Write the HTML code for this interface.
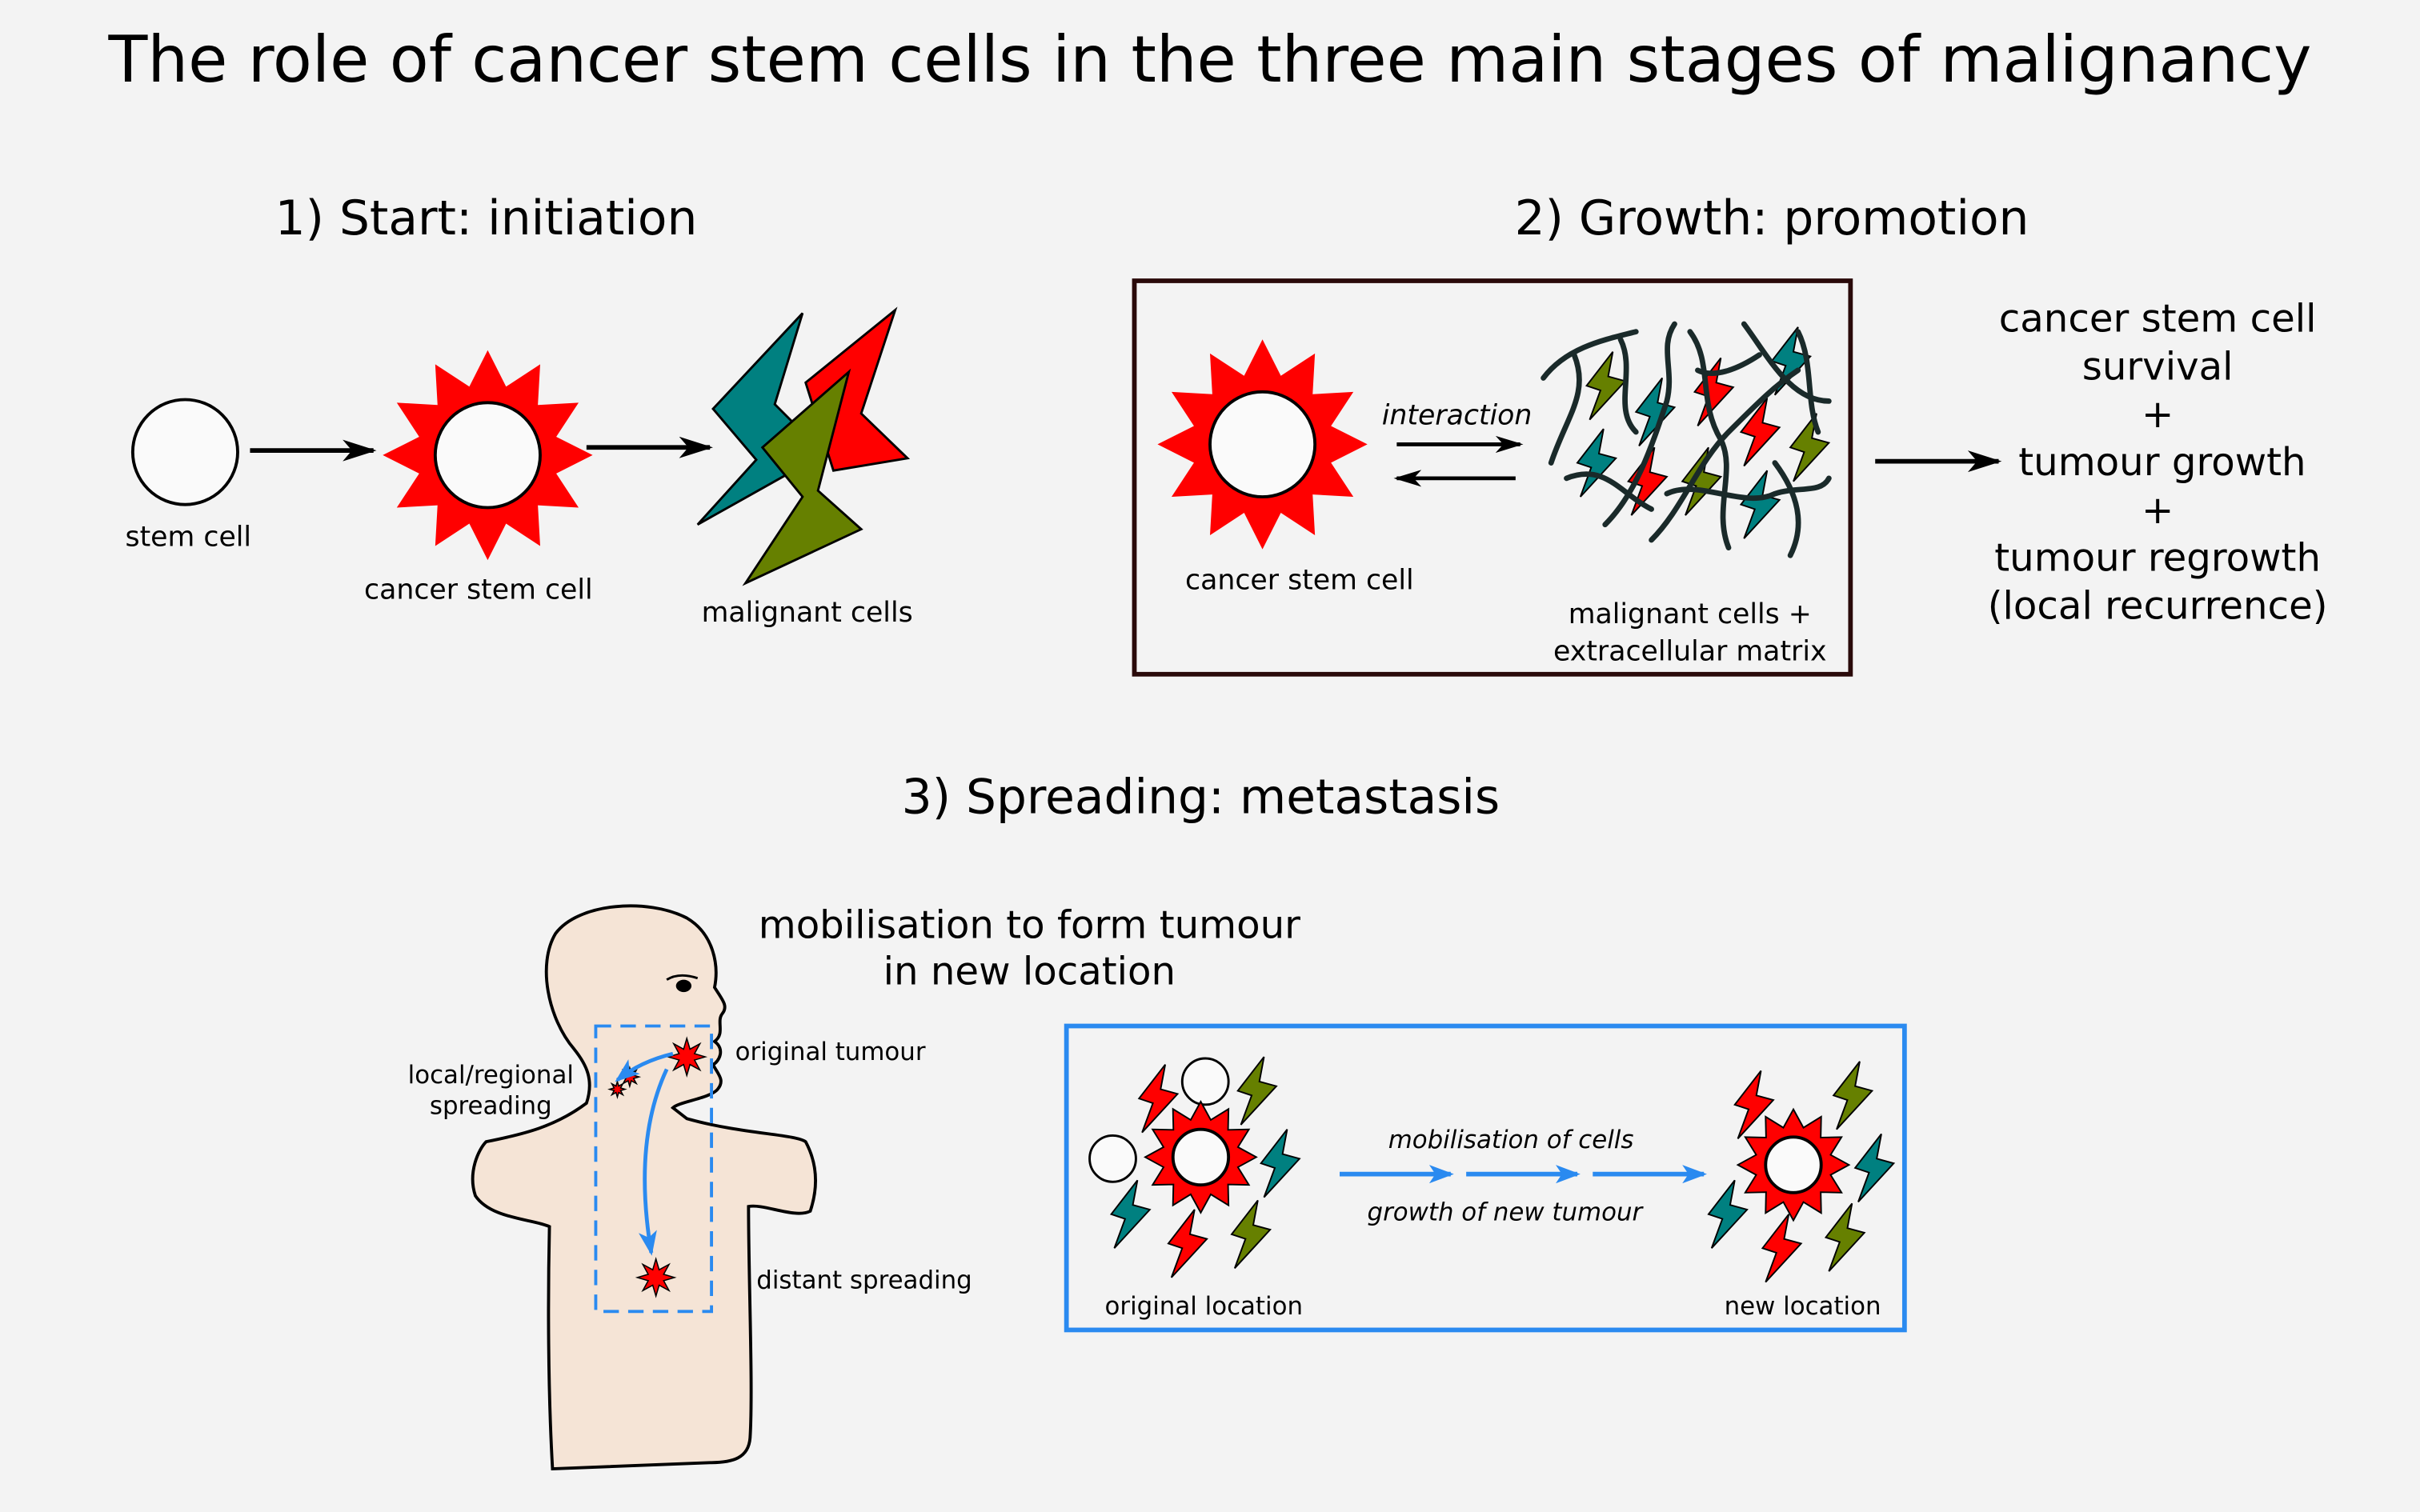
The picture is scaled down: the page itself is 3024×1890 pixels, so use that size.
<!DOCTYPE html>
<html><head><meta charset="utf-8">
<style>
html,body{margin:0;padding:0;background:#f3f3f3;}
svg{display:block;}
text{font-family:"DejaVu Sans","Liberation Sans",sans-serif;fill:#000;}
</style></head>
<body>
<svg id="s" width="3024" height="1890" viewBox="0 0 1568 980" xmlns="http://www.w3.org/2000/svg">
<defs>
<marker id="ah" markerWidth="22" markerHeight="14" refX="20" refY="7" orient="auto" markerUnits="userSpaceOnUse" viewBox="0 0 22 14"><path d="M0,0 L22,7 L0,14 L6,7 z" fill="#000"/></marker>
<marker id="ahs" markerWidth="18" markerHeight="11" refX="16" refY="5.5" orient="auto" markerUnits="userSpaceOnUse" viewBox="0 0 18 11"><path d="M0,0 L18,5.5 L0,11 L5,5.5 z" fill="#000"/></marker>
<marker id="ahb" markerWidth="16" markerHeight="12" refX="14" refY="6" orient="auto" markerUnits="userSpaceOnUse" viewBox="0 0 16 12"><path d="M0,0 L16,6 L0,12 L4,6 z" fill="#2a8af0"/></marker>
<polygon id="bolt" points="22,0 0,28 12,32 3,57 32,24 18,21" stroke="#000" stroke-width="1"/>
<polygon id="sbolt" points="17,0 0,22 9,25 2,44 25,19 14,16" stroke="#000" stroke-width="1"/>
</defs>
<rect width="1568" height="980" fill="#f3f3f3"/>
<text x="784" y="53" font-size="41.5" text-anchor="middle">The role of cancer stem cells in the three main stages of malignancy</text>

<!-- Section 1 -->
<text x="315" y="152" font-size="31" text-anchor="middle">1) Start: initiation</text>
<circle cx="120" cy="293" r="34" fill="#fafafa" stroke="#000" stroke-width="2"/>
<text x="122" y="354" font-size="18" text-anchor="middle">stem cell</text>
<line x1="162" y1="292" x2="242" y2="292" stroke="#000" stroke-width="3" marker-end="url(#ah)"/>
<g id="star1"></g>
<text x="310" y="388" font-size="18" text-anchor="middle">cancer stem cell</text>
<line x1="380" y1="290" x2="460" y2="290" stroke="#000" stroke-width="3" marker-end="url(#ah)"/>
<polygon points="520,203 462,265 490,298 452,340 534,294 502,262" fill="#008080" stroke="#000" stroke-width="1.5"/>
<polygon points="580,201 522,248 540,305 588,297 558,268" fill="#ff0000" stroke="#000" stroke-width="1.5"/>
<polygon points="550,241 494,290 520,322 483,378 558,343 530,318" fill="#668000" stroke="#000" stroke-width="1.5"/>
<text x="523" y="403" font-size="18" text-anchor="middle">malignant cells</text>

<!-- Section 2 -->
<text x="1148" y="152" font-size="31" text-anchor="middle">2) Growth: promotion</text>
<rect x="735" y="182" width="464" height="255" fill="none" stroke="#2a0a0a" stroke-width="3"/>
<g id="star2"></g>
<text x="842" y="382" font-size="18" text-anchor="middle">cancer stem cell</text>
<text x="944" y="275" font-size="18" font-style="italic" text-anchor="middle">interaction</text>
<line x1="905" y1="288" x2="985" y2="288" stroke="#000" stroke-width="2.5" marker-end="url(#ahs)"/>
<line x1="982" y1="310" x2="905" y2="310" stroke="#000" stroke-width="2.5" marker-end="url(#ahs)"/>
<g id="matrix"></g>
<text x="1095" y="404" font-size="18" text-anchor="middle">malignant cells +</text>
<text x="1095" y="428" font-size="18" text-anchor="middle">extracellular matrix</text>
<line x1="1215" y1="299" x2="1295" y2="299" stroke="#000" stroke-width="3" marker-end="url(#ah)"/>
<g font-size="25" text-anchor="middle">
<text x="1398" y="215">cancer stem cell</text>
<text x="1398" y="246">survival</text>
<text x="1398" y="277">+</text>
<text x="1401" y="308">tumour growth</text>
<text x="1398" y="339">+</text>
<text x="1398" y="370">tumour regrowth</text>
<text x="1398" y="401">(local recurrence)</text>
</g>

<!-- Section 3 -->
<text x="778" y="527" font-size="31" text-anchor="middle">3) Spreading: metastasis</text>
<path d="M372,680 C355,660 348,625 360,605 C375,585 420,582 445,595 C462,605 466,625 463,640 C468,648 472,652 468,657 C464,662 470,670 463,675 C470,680 466,688 462,690 C465,696 470,700 465,706 C460,712 440,714 436,718 L445,725 C480,735 515,735 522,740 C530,755 530,770 525,785 C515,790 495,780 485,782 C485,830 488,900 486,932 C485,945 475,948 460,948 L358,952 C355,900 355,840 356,795 C345,790 318,790 308,775 C303,760 310,745 315,740 C340,735 360,730 380,715 C385,700 380,690 372,680 Z" fill="#f5e4d6" stroke="#000" stroke-width="2"/>
<ellipse cx="443" cy="639" rx="5" ry="4" fill="#000"/>
<path d="M432,635 Q440,630 452,634" fill="none" stroke="#000" stroke-width="1.5"/>
<rect x="386" y="665" width="75" height="185" fill="none" stroke="#2a8af0" stroke-width="2" stroke-dasharray="10,6"/>
<g id="tumours"></g>
<path d="M436,683 Q415,688 400,700" fill="none" stroke="#2a8af0" stroke-width="2.5" marker-end="url(#ahb)"/>
<path d="M432,693 Q410,740 422,812" fill="none" stroke="#2a8af0" stroke-width="2.5" marker-end="url(#ahb)"/>
<text x="318" y="702" font-size="16" text-anchor="middle">local/regional</text>
<text x="318" y="722" font-size="16" text-anchor="middle">spreading</text>
<text x="538" y="687" font-size="16" text-anchor="middle">original tumour</text>
<text x="560" y="835" font-size="16" text-anchor="middle">distant spreading</text>
<text x="667" y="608" font-size="25" text-anchor="middle">mobilisation to form tumour</text>
<text x="667" y="638" font-size="25" text-anchor="middle">in new location</text>

<rect x="691" y="665" width="543" height="197" fill="none" stroke="#2a8af0" stroke-width="3"/>
<circle cx="781" cy="701" r="15" fill="#fafafa" stroke="#000" stroke-width="1.5"/>
<circle cx="721" cy="751" r="15" fill="#fafafa" stroke="#000" stroke-width="1.5"/>
<use href="#sbolt" x="738" y="690" fill="#ff0000"/>
<use href="#sbolt" x="802" y="685" fill="#668000"/>
<use href="#sbolt" x="817" y="732" fill="#008080"/>
<use href="#sbolt" x="720" y="765" fill="#008080"/>
<use href="#sbolt" x="757" y="784" fill="#ff0000"/>
<use href="#sbolt" x="798" y="778" fill="#668000"/>
<use href="#sbolt" x="1124" y="694" fill="#ff0000"/>
<use href="#sbolt" x="1188" y="688" fill="#668000"/>
<use href="#sbolt" x="1202" y="735" fill="#008080"/>
<use href="#sbolt" x="1107" y="765" fill="#008080"/>
<use href="#sbolt" x="1142" y="787" fill="#ff0000"/>
<use href="#sbolt" x="1183" y="780" fill="#668000"/>
<g id="star3"></g><g id="star4"></g>
<text x="979" y="744" font-size="16" font-style="italic" text-anchor="middle">mobilisation of cells</text>
<text x="975" y="791" font-size="16" font-style="italic" text-anchor="middle">growth of new tumour</text>
<line x1="868" y1="761" x2="940" y2="761" stroke="#2a8af0" stroke-width="3" marker-end="url(#ahb)"/>
<line x1="950" y1="761" x2="1022" y2="761" stroke="#2a8af0" stroke-width="3" marker-end="url(#ahb)"/>
<line x1="1032" y1="761" x2="1104" y2="761" stroke="#2a8af0" stroke-width="3" marker-end="url(#ahb)"/>
<text x="780" y="852" font-size="16" text-anchor="middle">original location</text>
<text x="1168" y="852" font-size="16" text-anchor="middle">new location</text>
</svg>
<script>
var NS="http://www.w3.org/2000/svg";
function el(p,t,a){var e=document.createElementNS(NS,t);for(var k in a)e.setAttribute(k,a[k]);p.appendChild(e);return e;}
function star(id,cx,cy,ro,ri,rc,n,sw){var g=document.getElementById(id),pts=[];
for(var i=0;i<2*n;i++){var a=Math.PI*i/n-Math.PI/2,r=i%2?ri:ro;pts.push((cx+r*Math.cos(a)).toFixed(1)+","+(cy+r*Math.sin(a)).toFixed(1));}
el(g,"polygon",{points:pts.join(" "),fill:"#ff0000",stroke:sw?"#000":"none","stroke-width":sw||0});
el(g,"circle",{cx:cx,cy:cy,r:rc,fill:"#fafafa",stroke:"#000","stroke-width":2});}
star("star1",316,295,68,46,34,12,0);
star("star2",818,288,68,46,34,12,0);
star("star3",778,750,36,25,18,12,1);
star("star4",1162,755,36,25,18,12,1);
var tg=document.getElementById("tumours");
[[445,685,12],[408,698,6],[400,706,5],[425,828,12]].forEach(function(t){
 var pts=[];for(var i=0;i<16;i++){var a=Math.PI*i/8,r=i%2?t[2]*0.45:t[2];pts.push((t[0]+r*Math.cos(a))+","+(t[1]+r*Math.sin(a)));}
 el(tg,"polygon",{points:pts.join(" "),fill:"#ff0000",stroke:"#000","stroke-width":0.8});});
var m=document.getElementById("matrix");
var bolts=[[1028,228,"#668000"],[1060,245,"#008080"],[1098,232,"#ff0000"],[1148,212,"#008080"],[1128,258,"#ff0000"],[1022,278,"#008080"],[1055,290,"#ff0000"],[1090,290,"#668000"],[1160,268,"#668000"],[1128,305,"#008080"]];
bolts.forEach(function(b){el(m,"use",{href:"#sbolt",x:b[0],y:b[1],fill:b[2]});});
var lines=["M1000,245 C1015,225 1040,220 1060,215","M1005,300 C1015,270 1030,255 1020,230","M1015,310 C1040,300 1050,320 1070,330","M1040,340 C1060,320 1070,290 1080,260 C1085,240 1075,225 1085,210","M1070,350 C1090,330 1100,300 1120,280 C1140,260 1150,250 1165,240","M1095,215 C1110,235 1100,260 1115,285 C1125,305 1110,330 1120,355","M1130,210 C1145,230 1160,260 1185,260","M1150,300 C1165,320 1170,340 1160,360","M1050,220 C1060,240 1045,265 1060,280","M1165,215 C1175,235 1170,260 1178,280","M1080,320 C1100,310 1130,330 1150,320 C1165,315 1180,320 1185,310","M1140,230 C1125,240 1110,245 1100,240"];
lines.forEach(function(d){el(m,"path",{d:d,fill:"none",stroke:"#1a2a2a","stroke-width":3.5,"stroke-linecap":"round"});});
</script>
</body></html>
